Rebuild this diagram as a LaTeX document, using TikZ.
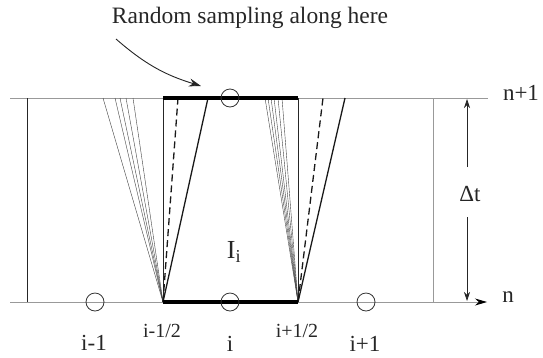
\documentclass[tikz,border=0pt]{standalone}
\usepackage{fontspec}
\setmainfont{Liberation Serif}
\usetikzlibrary{arrows.meta,positioning,calc}

\begin{document}
\begin{tikzpicture}[
  x=1pt, y=-1pt,
  level/.style={draw=black!40, line width=0.9pt},
  cellwall/.style={draw=black!85, line width=0.7pt},
  fanline/.style={draw=black!75, line width=0.4pt},
  path/.style={draw=black!90, line width=1.3pt},
  guess/.style={draw=black!90, line width=1.3pt, dash pattern=on 7pt off 4pt},
  sample/.style={draw=black, line width=4.5pt},
  gridpt/.style={circle, draw=black!80, line width=0.8pt, minimum size=18pt, inner sep=0pt},
  lbl/.style={text=black!85, inner sep=0pt, font=\fontsize{23}{25}\selectfont},
  small/.style={text=black!85, inner sep=0pt, font=\fontsize{20}{22}\selectfont},
  >={Stealth[length=9pt,width=6pt]}
]
\useasboundingbox (0,0) rectangle (543,357);

% time levels
\coordinate (topL) at (10,98);
\coordinate (topR) at (488,98);
\coordinate (botL) at (10,302);
\coordinate (botR) at (487,302);
\draw[level] (topL) -- (topR);
\draw[level, -{Stealth[length=12pt,width=7pt,black]}] (botL) -- (botR);

% domain ends
\draw[cellwall] (27,98) -- (27,302);
\draw[level, line width=0.7pt] (433,98) -- (433,302);

% cell I_i
\coordinate (west) at (163,302);
\coordinate (east) at (298,302);
\coordinate (westT) at (163,98);
\coordinate (eastT) at (298,98);
\draw[cellwall] (west) -- (westT);
\draw[cellwall] (east) -- (eastT);

% characteristics from the interfaces
\foreach \x in {103,115,120,126,133}
  \draw[fanline] (west) -- (\x,98);
\foreach \x in {265,268,271,274,278,282}
  \draw[fanline] (east) -- (\x,98);
\draw[guess] (west) -- (178,98);
\draw[path] (west) -- (208,98);
\draw[guess] (east) -- (323,98);
\draw[path] (east) -- (345,98);

% sampled segments
\draw[sample] (westT) -- (eastT);
\draw[sample] (west) -- (east);

% grid points
\node[gridpt] (pim) at (95,302) {};
\node[gridpt] (pi) at (230,302) {};
\node[gridpt] (pip) at (366,302) {};
\node[gridpt] (piT) at (230,98) {};

% labels
\node[lbl, font=\fontsize{23.5}{25}\selectfont] (title) at (250,18) {Random sampling along here};
\coordinate (tail) at (116,39);
\coordinate (aim) at (201,86);
\draw[black!85, line width=0.9pt, -{Stealth[length=12pt,width=8pt]}] (tail) to[bend right=12] (aim);

\node[lbl, font=\fontsize{26}{28}\selectfont] (cell) at (234,252) {I\textsubscript{i}};
\node[small] (lhalf) at (162,331) {i-1/2};
\node[small] (rhalf) at (297,331) {i+1/2};
\node[lbl] (lim) at (94,343) {i-1};
\node[lbl] (li) at (230,344) {i};
\node[lbl] (lip) at (365,344) {i+1};
\node[lbl] (nup) at (521,93) {n+1};
\node[lbl] (nlo) at (508,297) {n};

% time step
\node[lbl] (dt) at (470,194) {Δt};
\coordinate (dtup) at (467,167);
\coordinate (dtlo) at (467,217);
\draw[black!85, line width=0.7pt, ->] (dtup) -- (467,99);
\draw[black!85, line width=0.7pt, ->] (dtlo) -- (467,301);
\end{tikzpicture}
\end{document}
